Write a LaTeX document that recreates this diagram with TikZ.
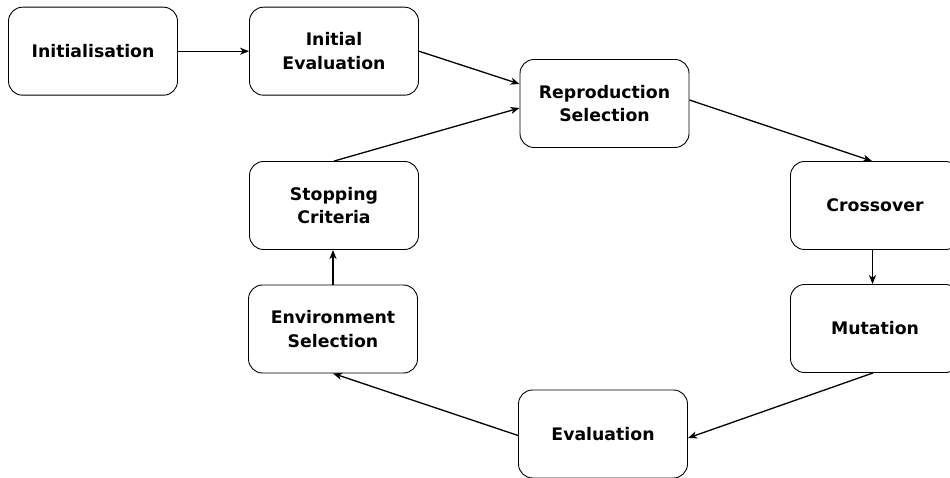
\documentclass[tikz,border=0pt]{standalone}
\usepackage{fontspec}
\setmainfont{DejaVu Sans}
\usetikzlibrary{arrows.meta}
\tikzset{
  stagebox/.style={draw=black, line width=0.9pt, rounded corners=14pt,
    minimum width=169pt, minimum height=88pt, inner sep=0pt, align=center,
    font=\fontsize{17.3}{23.5}\selectfont\bfseries},
  flow/.style={draw=black, line width=1.3pt, -{Stealth[length=9pt,width=7pt,inset=2.5pt]}}
}
\begin{document}
\begin{tikzpicture}[x=1pt,y=-1pt]
\useasboundingbox (0,0) rectangle (950,478);
\clip (0,0) rectangle (950,478);
\node[stagebox] (init)  at (93,51.2)   {Initialisation};
\node[stagebox] (ieval) at (334,51.2)  {Initial\\Evaluation};
\node[stagebox] (repro) at (604.5,103.5) {Reproduction\\Selection};
\node[stagebox] (cross) at (875,205.5) {Crossover};
\node[stagebox] (mut)   at (875,328.5) {Mutation};
\node[stagebox] (eval)  at (603,434)   {Evaluation};
\node[stagebox] (env)   at (333,329)   {Environment\\Selection};
\node[stagebox] (stop)  at (334,205.5) {Stopping\\Criteria};

\draw[flow] (init.east) -- (ieval.west);
\draw[flow] (ieval.east) -- ([yshift=19.5pt]repro.west);
\draw[flow] ([yshift=3.5pt]repro.east) -- ([xshift=-3pt]cross.north);
\draw[flow] ([xshift=-2.5pt]cross.south) -- ([xshift=-2.5pt]mut.south |- mut.north);
\draw[flow] ([xshift=-2pt]mut.south) -- ([yshift=-4pt]eval.east);
\draw[flow] ([yshift=-1.5pt]eval.west) -- (env.south);
\draw[flow] (env.north) -- (env.north |- stop.south);
\draw[flow] (stop.north) -- ([yshift=-4.5pt]repro.west);
\end{tikzpicture}
\end{document}
